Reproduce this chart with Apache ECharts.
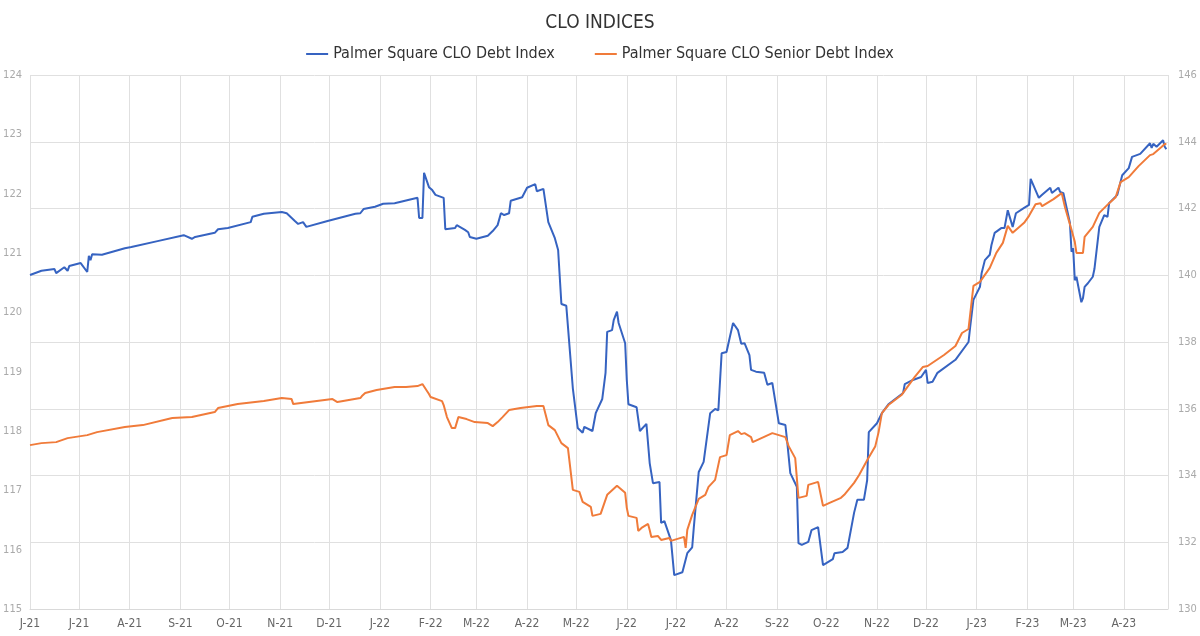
<!DOCTYPE html>
<html>
<head>
<meta charset="utf-8">
<script src="https://cdn.jsdelivr.net/npm/echarts@6/dist/echarts.min.js"></script>
<style>
  html, body { margin: 0; padding: 0; background: #fff; }
  #chart { width: 1200px; height: 636px; }
</style>
</head>
<body>
<div id="chart"></div>
<script>
// Palmer Square CLO Debt Index (left axis)
const debtDates = [
  '2021-06-01','2021-06-08','2021-06-16','2021-06-17','2021-06-22','2021-06-24','2021-06-25','2021-07-02','2021-07-06','2021-07-07',
  '2021-07-08','2021-07-09','2021-07-15','2021-07-29','2021-08-02','2021-08-18','2021-09-03','2021-09-08','2021-09-10','2021-09-22',
  '2021-09-24','2021-09-30','2021-10-14','2021-10-15','2021-10-22','2021-11-02','2021-11-05','2021-11-10','2021-11-12','2021-11-15',
  '2021-11-17','2021-11-30','2021-12-17','2021-12-20','2021-12-22','2021-12-29','2022-01-03','2022-01-10','2022-01-24','2022-01-25',
  '2022-01-27','2022-01-28','2022-01-31','2022-02-02','2022-02-04','2022-02-09','2022-02-10','2022-02-16','2022-02-17','2022-02-22',
  '2022-02-24','2022-02-25','2022-03-01','2022-03-08','2022-03-11','2022-03-14','2022-03-16','2022-03-18','2022-03-21','2022-03-22',
  '2022-03-29','2022-04-01','2022-04-06','2022-04-07','2022-04-11','2022-04-14','2022-04-18','2022-04-20','2022-04-22','2022-04-25',
  '2022-04-29','2022-05-02','2022-05-03','2022-05-05','2022-05-06','2022-05-11','2022-05-13','2022-05-17','2022-05-19','2022-05-20',
  '2022-05-23','2022-05-24','2022-05-26','2022-05-27','2022-05-31','2022-06-01','2022-06-02','2022-06-07','2022-06-09','2022-06-13',
  '2022-06-15','2022-06-17','2022-06-21','2022-06-22','2022-06-24','2022-06-28','2022-06-30','2022-07-05','2022-07-08','2022-07-11',
  '2022-07-12','2022-07-13','2022-07-15','2022-07-18','2022-07-22','2022-07-25','2022-07-27','2022-07-29','2022-08-01','2022-08-03',
  '2022-08-05','2022-08-08','2022-08-10','2022-08-12','2022-08-15','2022-08-16','2022-08-19','2022-08-24','2022-08-26','2022-08-29',
  '2022-09-02','2022-09-06','2022-09-07','2022-09-09','2022-09-13','2022-09-14','2022-09-16','2022-09-20','2022-09-22','2022-09-26',
  '2022-09-29','2022-10-05','2022-10-06','2022-10-11','2022-10-14','2022-10-18','2022-10-20','2022-10-24','2022-10-26','2022-10-27',
  '2022-11-01','2022-11-04','2022-11-08','2022-11-17','2022-11-18','2022-11-23','2022-11-28','2022-12-01','2022-12-02','2022-12-05',
  '2022-12-08','2022-12-19','2022-12-20','2022-12-27','2022-12-28','2022-12-30','2023-01-03','2023-01-04','2023-01-06','2023-01-09',
  '2023-01-10','2023-01-12','2023-01-16','2023-01-18','2023-01-20','2023-01-23','2023-01-24','2023-01-25','2023-01-30','2023-02-02',
  '2023-02-03','2023-02-08','2023-02-10','2023-02-15','2023-02-16','2023-02-20','2023-02-21','2023-02-23','2023-02-27','2023-02-28',
  '2023-03-01','2023-03-02','2023-03-03','2023-03-06','2023-03-07','2023-03-08','2023-03-10','2023-03-13','2023-03-14','2023-03-17',
  '2023-03-20','2023-03-22','2023-03-23','2023-03-28','2023-03-31','2023-04-04','2023-04-06','2023-04-11','2023-04-17','2023-04-18',
  '2023-04-19','2023-04-21','2023-04-25','2023-04-26','2023-04-27'
]
const debtValues = [
  120.63,120.70,120.73,120.66,120.76,120.70,120.78,120.83,120.68,120.95,
  120.88,120.98,120.97,121.08,121.10,121.20,121.30,121.24,121.27,121.34,
  121.40,121.42,121.52,121.61,121.66,121.69,121.67,121.54,121.49,121.52,
  121.44,121.54,121.66,121.67,121.74,121.78,121.83,121.84,121.93,121.59,
  121.59,122.35,122.11,122.06,121.98,121.93,121.40,121.42,121.47,121.39,
  121.35,121.27,121.24,121.29,121.37,121.47,121.67,121.64,121.67,121.88,
  121.94,122.10,122.16,122.04,122.08,121.52,121.25,121.05,120.14,120.11,
  118.72,118.05,118.07,117.97,118.07,118.00,118.30,118.54,118.98,119.67,
  119.70,119.87,120.01,119.82,119.48,118.86,118.45,118.40,118.00,118.12,
  117.46,117.12,117.14,116.45,116.48,116.16,115.57,115.62,115.94,116.04,
  116.38,116.35,117.31,117.48,118.30,118.37,118.35,119.31,119.33,119.58,
  119.82,119.70,119.47,119.48,119.28,119.03,119.00,118.98,118.78,118.81,
  118.13,118.10,117.85,117.29,117.06,116.11,116.08,116.13,116.33,116.38,
  115.74,115.84,115.94,115.96,116.03,116.62,116.84,116.84,117.17,117.98,
  118.13,118.30,118.45,118.64,118.79,118.86,118.91,119.03,118.81,118.83,
  118.98,119.20,119.21,119.50,119.75,120.21,120.43,120.66,120.88,120.97,
  121.13,121.34,121.42,121.42,121.72,121.44,121.47,121.67,121.76,121.81,
  122.25,121.93,121.98,122.10,122.01,122.10,122.03,122.01,121.51,121.02,
  121.08,120.54,120.60,120.17,120.24,120.43,120.49,120.60,120.73,121.44,
  121.64,121.61,121.84,121.98,122.31,122.43,122.62,122.67,122.85,122.77,
  122.84,122.79,122.90,122.79,122.75
]

// Palmer Square CLO Senior Debt Index (right axis)
const seniorDates = [
  '2021-06-01','2021-06-08','2021-06-17','2021-06-24','2021-07-06','2021-07-12','2021-07-29','2021-08-09','2021-08-27','2021-09-08',
  '2021-09-22','2021-09-24','2021-10-06','2021-10-22','2021-11-02','2021-11-08','2021-11-09','2021-12-03','2021-12-06','2021-12-20',
  '2021-12-21','2021-12-23','2021-12-30','2022-01-10','2022-01-17','2022-01-24','2022-01-27','2022-01-31','2022-02-01','2022-02-08',
  '2022-02-09','2022-02-11','2022-02-14','2022-02-16','2022-02-18','2022-02-23','2022-02-28','2022-03-08','2022-03-11','2022-03-14',
  '2022-03-17','2022-03-21','2022-03-28','2022-04-07','2022-04-11','2022-04-14','2022-04-18','2022-04-22','2022-04-26','2022-04-29',
  '2022-05-03','2022-05-05','2022-05-10','2022-05-11','2022-05-16','2022-05-20','2022-05-26','2022-05-31','2022-06-01','2022-06-02',
  '2022-06-07','2022-06-08','2022-06-10','2022-06-14','2022-06-15','2022-06-16','2022-06-20','2022-06-22','2022-06-27','2022-06-28',
  '2022-07-06','2022-07-07','2022-07-08','2022-07-11','2022-07-15','2022-07-19','2022-07-21','2022-07-25','2022-07-28','2022-08-01',
  '2022-08-03','2022-08-08','2022-08-10','2022-08-12','2022-08-16','2022-08-17','2022-08-29','2022-09-06','2022-09-08','2022-09-12',
  '2022-09-14','2022-09-19','2022-09-20','2022-09-26','2022-09-27','2022-09-29','2022-10-03','2022-10-10','2022-10-12','2022-10-18',
  '2022-10-21','2022-10-26','2022-10-31','2022-11-02','2022-11-04','2022-11-08','2022-11-16','2022-11-24','2022-11-29','2022-12-02',
  '2022-12-12','2022-12-19','2022-12-23','2022-12-27','2022-12-30','2023-01-03','2023-01-09','2023-01-13','2023-01-17','2023-01-20',
  '2023-01-23','2023-01-30','2023-02-02','2023-02-06','2023-02-09','2023-02-10','2023-02-17','2023-02-22','2023-02-24','2023-02-28',
  '2023-03-02','2023-03-03','2023-03-07','2023-03-08','2023-03-13','2023-03-17','2023-03-23','2023-03-27','2023-03-30','2023-04-04',
  '2023-04-10','2023-04-17','2023-04-19','2023-04-24','2023-04-26','2023-04-27'
]
const seniorValues = [
  134.91,134.97,135.00,135.12,135.21,135.30,135.45,135.51,135.72,135.75,
  135.90,136.02,136.14,136.23,136.32,136.29,136.14,136.29,136.20,136.32,
  136.38,136.47,136.56,136.65,136.65,136.68,136.74,136.44,136.35,136.23,
  136.11,135.75,135.42,135.42,135.75,135.69,135.60,135.57,135.48,135.60,
  135.75,135.96,136.02,136.08,136.08,135.51,135.36,134.97,134.82,133.57,
  133.51,133.21,133.06,132.79,132.85,133.42,133.69,133.48,133.03,132.79,
  132.73,132.34,132.43,132.55,132.37,132.16,132.19,132.07,132.13,132.04,
  132.16,131.83,132.37,132.82,133.30,133.42,133.66,133.87,134.55,134.61,
  135.21,135.33,135.24,135.27,135.15,135.00,135.27,135.15,134.88,134.52,
  133.33,133.39,133.72,133.81,133.78,133.09,133.18,133.33,133.42,133.78,
  134.01,134.46,134.88,135.30,135.87,136.11,136.41,136.95,137.25,137.28,
  137.61,137.88,138.27,138.39,139.68,139.80,140.22,140.67,140.97,141.48,
  141.27,141.57,141.78,142.13,142.16,142.07,142.28,142.46,142.04,141.36,
  141.00,140.67,140.67,141.15,141.45,141.87,142.16,142.34,142.79,142.94,
  143.27,143.60,143.63,143.84,143.93,143.93
]

const monthLetters = ['J', 'F', 'M', 'A', 'M', 'J', 'J', 'A', 'S', 'O', 'N', 'D']
const fontFamily = "'Liberation Sans Narrow', 'DejaVu Sans Condensed', sans-serif"

const chart = echarts.init(document.getElementById('chart'))
chart.setOption({
  animation: false,
  textStyle: { fontFamily: fontFamily },
  title: {
    text: 'CLO INDICES',
    left: 'center',
    top: 9,
    textStyle: { fontSize: 19, fontWeight: 'normal', color: '#333', fontFamily: fontFamily }
  },
  legend: {
    top: 41,
    left: 'center',
    icon: 'rect',
    itemWidth: 22,
    itemHeight: 2,
    itemGap: 40,
    textStyle: { fontSize: 16, color: '#333', fontFamily: fontFamily }
  },
  grid: {
    left: 30,
    right: 32,
    top: 75,
    bottom: 27
  },
  xAxis: {
    type: 'time',
    min: '2021-06-01',
    max: '2023-04-28',
    minInterval: 28 * 24 * 3600 * 1000,
    maxInterval: 31 * 24 * 3600 * 1000,
    axisLine: { show: true, lineStyle: { color: '#d9d9d9' } },
    axisTick: { show: false },
    splitLine: { show: true, lineStyle: { color: '#e0e0e0' } },
    axisLabel: {
      color: '#666',
      fontSize: 12,
      margin: 9,
      hideOverlap: false,
      formatter: function(val) {
        const d = new Date(val)
        return monthLetters[d.getMonth()] + '-' + String(d.getFullYear()).slice(2)
      }
    }
  },
  yAxis: [
    {
      type: 'value',
      min: 115,
      max: 124,
      interval: 1,
      axisLine: { show: false },
      axisTick: { show: false },
      splitLine: { show: false },
      axisLabel: { color: '#aaa', fontSize: 11, margin: 8 }
    },
    {
      type: 'value',
      min: 130,
      max: 146,
      interval: 2,
      position: 'right',
      axisLine: { show: false },
      axisTick: { show: false },
      splitLine: { show: true, lineStyle: { color: '#e0e0e0' } },
      axisLabel: { color: '#aaa', fontSize: 11, margin: 10 }
    }
  ],
  series: [
    {
      name: 'Palmer Square CLO Debt Index',
      type: 'line',
      yAxisIndex: 0,
      showSymbol: false,
      symbol: 'none',
      lineStyle: { width: 2, color: '#3663c1' },
      itemStyle: { color: '#3663c1' },
      data: debtDates.map((d, i) => [d, debtValues[i]])
    },
    {
      name: 'Palmer Square CLO Senior Debt Index',
      type: 'line',
      yAxisIndex: 1,
      showSymbol: false,
      symbol: 'none',
      lineStyle: { width: 2, color: '#f07b3a' },
      itemStyle: { color: '#f07b3a' },
      data: seniorDates.map((d, i) => [d, seniorValues[i]])
    }
  ]
})
</script>
</body>
</html>
